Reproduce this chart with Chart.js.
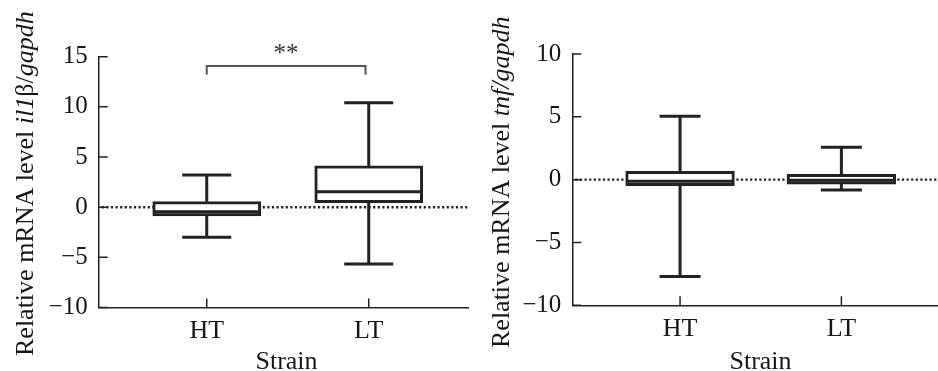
<!DOCTYPE html>
<html><head><meta charset="utf-8">
<script src="https://cdn.jsdelivr.net/npm/chart.js@4"></script>
<style>
html,body{margin:0;padding:0;background:#fff;width:938px;height:371px;overflow:hidden}
.wrap{position:absolute;top:0;width:469px;height:371px}
</style></head><body>
<div class="wrap" style="left:0"><canvas id="c1" width="469" height="371"></canvas></div>
<div class="wrap" style="left:469px"><canvas id="c2" width="469" height="371"></canvas></div>
<script>
// ---- data ----
const categories = ['HT', 'LT'];
const il1bMin    = [-3.0, -5.66];
const il1bQ1     = [-0.86, 0.45];
const il1bMedian = [-0.45, 1.55];
const il1bQ3     = [0.55, 4.11];
const il1bMax    = [3.21, 10.42];
const tnfMin    = [-7.7, -0.82];
const tnfQ1     = [-0.48, -0.35];
const tnfMedian = [-0.13, -0.05];
const tnfQ3     = [0.66, 0.42];
const tnfMax    = [5.04, 2.57];
const il1bAxis = {min: -10, max: 15, step: 5};
const tnfAxis  = {min: -10, max: 10, step: 5};
const il1bSignif = {from: 0, to: 0.98, y: 14.07, drop: 0.87, label: '**'};
const xTitle = 'Strain';
const il1bTitle = [{t: 'Relative mRNA level '}, {t: 'il1', i: true}, {t: 'β/'}, {t: 'gapdh', i: true}];
const tnfTitle  = [{t: 'Relative mRNA level '}, {t: 'tnf/gapdh', i: true}];

const INK = '#222';
const TXT = '#161616';
const FONT = '"Liberation Serif", "Times New Roman", serif';

function fmt(v) { return v < 0 ? '\u2212' + Math.abs(v) : String(v); }

function makeChart(id, st, axis, layout) {
  const extras = {
    id: 'boxExtras',
    beforeDatasetsDraw(chart) {
      const {ctx, chartArea, scales: {y}} = chart;
      const y0 = y.getPixelForValue(0);
      ctx.save();
      ctx.strokeStyle = '#222'; ctx.lineWidth = 2.4; ctx.setLineDash([2.2, 2.4]);
      ctx.beginPath(); ctx.moveTo(chartArea.left + 3, y0); ctx.lineTo(chartArea.right, y0); ctx.stroke();
      ctx.restore();
    },
    afterDatasetsDraw(chart) {
      const {ctx, chartArea, scales: {x, y}} = chart;
      ctx.save();
      ctx.strokeStyle = INK; ctx.lineWidth = 3; ctx.lineCap = 'butt';
      categories.forEach((c, i) => {
        const px = x.getPixelForValue(i);
        const hb = layout.box / 2 - 1.5, hc = layout.cap / 2;
        ctx.beginPath();
        ctx.moveTo(px, y.getPixelForValue(st.q3[i])); ctx.lineTo(px, y.getPixelForValue(st.max[i]));
        ctx.moveTo(px, y.getPixelForValue(st.q1[i])); ctx.lineTo(px, y.getPixelForValue(st.min[i]));
        ctx.moveTo(px - hc, y.getPixelForValue(st.max[i])); ctx.lineTo(px + hc, y.getPixelForValue(st.max[i]));
        ctx.moveTo(px - hc, y.getPixelForValue(st.min[i])); ctx.lineTo(px + hc, y.getPixelForValue(st.min[i]));
        ctx.moveTo(px - hb, y.getPixelForValue(st.med[i])); ctx.lineTo(px + hb, y.getPixelForValue(st.med[i]));
        ctx.stroke();
      });
      // inward ticks
      ctx.lineWidth = 1.5;
      ctx.beginPath();
      y.ticks.forEach(t => {
        const py = y.getPixelForValue(t.value);
        ctx.moveTo(chartArea.left, py); ctx.lineTo(chartArea.left + 9, py);
      });
      categories.forEach((c, i) => {
        const px = x.getPixelForValue(i);
        ctx.moveTo(px, chartArea.bottom); ctx.lineTo(px, chartArea.bottom - 9);
      });
      ctx.stroke();
      // significance
      if (layout.signif) {
        const s = layout.signif;
        const x1 = x.getPixelForValue(s.from), x2 = x.getPixelForValue(s.to);
        const yt = y.getPixelForValue(s.y), yb = y.getPixelForValue(s.y - s.drop);
        ctx.strokeStyle = '#555'; ctx.lineWidth = 2;
        ctx.beginPath();
        ctx.moveTo(x1, yb); ctx.lineTo(x1, yt); ctx.lineTo(x2, yt); ctx.lineTo(x2, yb);
        ctx.stroke();
        ctx.fillStyle = '#333'; ctx.font = '25px ' + FONT; ctx.textAlign = 'center'; ctx.textBaseline = 'alphabetic';
        ctx.fillText(s.label, (x1 + x2) / 2, yt - 5);
      }
      // titles
      ctx.fillStyle = TXT; ctx.textAlign = 'center'; ctx.textBaseline = 'alphabetic';
      ctx.font = '26px ' + FONT;
      ctx.fillText(xTitle, layout.xTitleX, 368.5);
      ctx.translate(layout.yTitleX, layout.yTitleStart);
      ctx.rotate(-Math.PI / 2);
      ctx.textAlign = 'left';
      let pos = 0;
      layout.yTitle.forEach(seg => {
        ctx.font = (seg.i ? 'italic ' : '') + '26px ' + FONT;
        ctx.fillText(seg.t, pos, 0);
        pos += ctx.measureText(seg.t).width;
      });
      ctx.restore();
    }
  };
  return new Chart(document.getElementById(id), {
    type: 'bar',
    data: {
      datasets: [{
        data: categories.map((c, i) => ({x: i, y: [st.q1[i], st.q3[i]]})),
        backgroundColor: '#fff', borderColor: INK, borderWidth: 3, borderSkipped: false,
        barThickness: layout.box
      }]
    },
    options: {
      responsive: false, animation: false, events: [],
      layout: {padding: {top: layout.top, left: 0, right: 0, bottom: 0}},
      plugins: {legend: {display: false}, tooltip: {enabled: false}},
      scales: {
        x: {
          type: 'linear', min: layout.xmin, max: layout.xmax, offset: false,
          grid: {display: false, drawTicks: false, offset: false},
          border: {display: true, color: INK, width: 1.5},
          afterBuildTicks: s => { s.ticks = categories.map((c, i) => ({value: i})); },
          afterFit: s => { s.height = layout.xh; },
          ticks: {callback: v => categories[v] ?? '', color: TXT, padding: 8, font: {family: FONT, size: 26}, maxRotation: 0, autoSkip: false}
        },
        y: {
          min: axis.min, max: axis.max,
          grid: {display: false, drawTicks: false},
          border: {display: true, color: INK, width: 1.5},
          afterFit: s => { s.width = layout.yw; },
          ticks: {stepSize: axis.step, callback: v => fmt(v), color: TXT, padding: 11, font: {family: FONT, size: 25}}
        }
      }
    },
    plugins: [extras]
  });
}

makeChart('c1',
  {min: il1bMin, q1: il1bQ1, med: il1bMedian, q3: il1bQ3, max: il1bMax},
  il1bAxis,
  {top: 56.7, yw: 98.7, xh: 63.5, xmin: -0.667, xmax: 1.619, box: 108, cap: 49,
   signif: il1bSignif, xTitleX: 286.5, yTitleX: 33.3, yTitleStart: 356, yTitle: il1bTitle});
makeChart('c2',
  {min: tnfMin, q1: tnfQ1, med: tnfMedian, q3: tnfQ3, max: tnfMax},
  tnfAxis,
  {top: 54, yw: 103.3, xh: 65.7, xmin: -0.668, xmax: 1.599, box: 108.7, cap: 41,
   signif: null, xTitleX: 291.5, yTitleX: 39.7, yTitleStart: 348, yTitle: tnfTitle});
</script>
</body></html>
